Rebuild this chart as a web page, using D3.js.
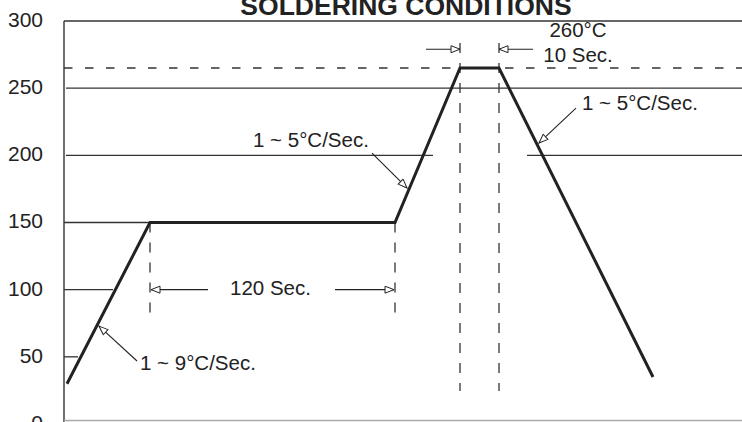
<!DOCTYPE html>
<html>
<head>
<meta charset="utf-8">
<script src="https://cdn.jsdelivr.net/npm/d3@7"></script>
<style>
  body { margin: 0; background: #fff; }
  text { font-family: "Liberation Sans", Arial, sans-serif; fill: #222; }
</style>
</head>
<body>
<div id="chart"></div>
<script>
// reflow profile (schematic time units, temperature in °C)
const profileTime = [1.5, 43, 165.5, 198, 217.5, 294.5]
const profileTemp = [30, 150, 150, 265, 265, 35]

const yTicks = [0, 50, 100, 150, 200, 250, 300]
const peakTemp = 265

// solid reference lines, broken where the drawing leaves room
const gridTemp = [250, 200, 200, 150, 100, 50]
const gridFrom = [1, 1, 231.5, 0, 0, 0]
const gridTo = [339, 184.5, 339, 43, 24.5, 7]

// dashed vertical markers
const markTime = [43, 165.5, 198, 217.5]
const markTop = [150, 150, 283.6, 283.6]
const markBottom = [76, 78, 24.6, 24.6]

// dimension arrows
const dimTemp = [100, 100, 279, 279]
const dimFrom = [72, 135.5, 181, 234.5]
const dimTo = [43.5, 165, 198, 217.5]

// leader arrows pointing at the slopes
const leaderFromT = [36.5, 154, 256]
const leaderFromV = [46.9, 201.7, 235.2]
const leaderToT = [17.5, 171.5, 237.5]
const leaderToV = [72.9, 175.7, 209.2]

const labelText = ["260°C", "10 Sec.", "1 ~ 5°C/Sec.", "1 ~ 5°C/Sec.", "120 Sec.", "1 ~ 9°C/Sec."]
const labelTime = [257, 257, 259, 94.5, 83, 38]
const labelTemp = [288, 269.4, 233.7, 206.2, 96, 40.2]
const labelAnchor = ["middle", "middle", "start", "start", "start", "start"]

const width = 742, height = 422

const svg = d3.select("#chart").append("svg")
    .attr("width", width)
    .attr("height", height)

const x = d3.scaleLinear().domain([0, 339]).range([64, 742])
const y = d3.scaleLinear().domain([0, 300]).range([424, 21])

svg.append("defs").append("marker")
    .attr("id", "head")
    .attr("markerUnits", "userSpaceOnUse")
    .attr("markerWidth", 12).attr("markerHeight", 10)
    .attr("refX", 10).attr("refY", 4)
    .attr("orient", "auto")
    .append("path")
    .attr("d", "M1,0.5 L10,4 L1,7.5 Z")
    .attr("fill", "#fff")
    .attr("stroke", "#222")
    .attr("stroke-width", 1)

// frame: top line, left axis, bottom edge
svg.append("line")
    .attr("x1", x(0)).attr("x2", width)
    .attr("y1", y(300)).attr("y2", y(300))
    .attr("stroke", "#333").attr("stroke-width", 1.4)
svg.append("line")
    .attr("x1", x(0)).attr("x2", x(0))
    .attr("y1", y(300)).attr("y2", height)
    .attr("stroke", "#333").attr("stroke-width", 1.4)
svg.append("line")
    .attr("x1", x(0)).attr("x2", width)
    .attr("y1", height - 1.5).attr("y2", height - 1.5)
    .attr("stroke", "#aaa").attr("stroke-width", 1.4)

svg.append("g")
    .selectAll("text")
    .data(yTicks)
    .join("text")
    .attr("x", 43)
    .attr("y", d => y(d) - 1.5)
    .attr("dy", "0.35em")
    .attr("text-anchor", "end")
    .style("font-size", "21px")
    .text(d => d)

svg.append("g")
    .selectAll("line")
    .data(gridTemp)
    .join("line")
    .attr("x1", (d, i) => x(gridFrom[i]))
    .attr("x2", (d, i) => x(gridTo[i]))
    .attr("y1", d => y(d))
    .attr("y2", d => y(d))
    .attr("stroke", "#333")
    .attr("stroke-width", 1.3)

svg.append("line")
    .attr("x1", x(0)).attr("x2", width)
    .attr("y1", y(peakTemp)).attr("y2", y(peakTemp))
    .attr("stroke", "#333")
    .attr("stroke-width", 1.3)
    .attr("stroke-dasharray", "8.5,12.5")

svg.append("g")
    .selectAll("line")
    .data(markTime)
    .join("line")
    .attr("x1", d => x(d))
    .attr("x2", d => x(d))
    .attr("y1", (d, i) => y(markTop[i]))
    .attr("y2", (d, i) => y(markBottom[i]))
    .attr("stroke", "#333")
    .attr("stroke-width", 1.3)
    .attr("stroke-dasharray", "10,10")

const profile = profileTime.map((t, i) => [t, profileTemp[i]])

svg.append("path")
    .datum(profile)
    .attr("fill", "none")
    .attr("stroke", "#222")
    .attr("stroke-width", 3)
    .attr("stroke-linejoin", "miter")
    .attr("d", d3.line().x(d => x(d[0])).y(d => y(d[1])))

svg.append("g")
    .selectAll("line")
    .data(dimTemp)
    .join("line")
    .attr("x1", (d, i) => x(dimFrom[i]))
    .attr("x2", (d, i) => x(dimTo[i]))
    .attr("y1", d => y(d))
    .attr("y2", d => y(d))
    .attr("stroke", "#222")
    .attr("stroke-width", 1.1)
    .attr("marker-end", "url(#head)")

svg.append("g")
    .selectAll("line")
    .data(leaderFromT)
    .join("line")
    .attr("x1", d => x(d))
    .attr("y1", (d, i) => y(leaderFromV[i]))
    .attr("x2", (d, i) => x(leaderToT[i]))
    .attr("y2", (d, i) => y(leaderToV[i]))
    .attr("stroke", "#222")
    .attr("stroke-width", 1.1)
    .attr("marker-end", "url(#head)")

svg.append("g")
    .selectAll("text")
    .data(labelText)
    .join("text")
    .attr("x", (d, i) => x(labelTime[i]))
    .attr("y", (d, i) => y(labelTemp[i]))
    .attr("text-anchor", (d, i) => labelAnchor[i])
    .style("font-size", "20.5px")
    .text(d => d)

svg.append("text")
    .attr("x", 406)
    .attr("y", 15)
    .attr("text-anchor", "middle")
    .attr("font-weight", "bold")
    .style("font-size", "26.5px")
    .text("SOLDERING CONDITIONS")
</script>
</body>
</html>
